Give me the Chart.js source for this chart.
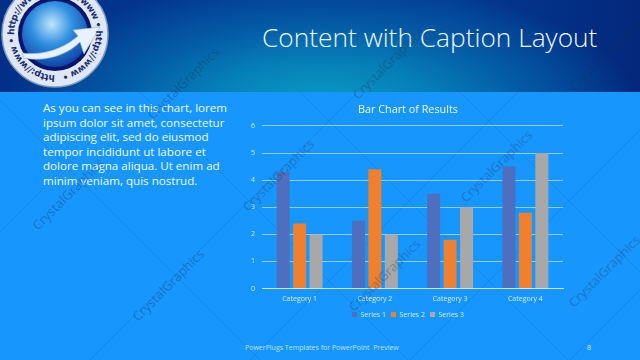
<!DOCTYPE html>
<html><head><meta charset="utf-8">
<script src="https://cdn.jsdelivr.net/npm/chart.js@4"></script>
<style>
html,body{margin:0;padding:0;width:640px;height:360px;overflow:hidden;background:#1797fd;font-family:"Open Sans",sans-serif}
#header{position:absolute;left:0;top:0;width:640px;height:92px;background:radial-gradient(ellipse 315px 125px at 320px 105px,#0a9cc4 0%,#0680b8 35%,#045aa5 65%,rgba(3,50,135,0) 100%),linear-gradient(90deg,#032f88 0%,#033a92 40%,#033a92 70%,#03287c 100%)}
#heading{position:absolute;left:262px;top:19px;font:300 26.3px "Open Sans",sans-serif;color:#eef8ff;white-space:nowrap}
#caption{position:absolute;left:43px;top:101px;width:200px;font:11.6px/14.5px "Open Sans",sans-serif;color:#f0f9ff;white-space:nowrap}
#c{position:absolute;left:237px;top:100px}
#foot{position:absolute;left:245px;top:343px;font:7px "Open Sans",sans-serif;color:#bfe2ff;white-space:nowrap}
#num{position:absolute;left:587px;top:343px;font:7px "Open Sans",sans-serif;color:#d5ecff}
.w{position:absolute;font:13px "Open Sans",sans-serif;color:rgba(20,50,90,.36);transform:translate(-50%,-50%) rotate(-45deg);white-space:nowrap}
svg{position:absolute;left:0;top:0}
</style></head><body>
<div id="header"></div>
<svg width="640" height="360" viewBox="0 0 640 360">
<g stroke="rgba(20,60,120,.16)" stroke-width="1" fill="none">
<path d="M0 100L260 360M140 92L408 360M300 92L568 360M460 92L640 272M0 232L128 104M90 360L358 92M250 360L518 92M410 360L640 130M570 360L640 290"/>
</g>
<defs><radialGradient id="globe" cx=".45" cy=".35" r=".7"><stop offset="0" stop-color="#bfe6fb"/><stop offset=".45" stop-color="#2f8fe0"/><stop offset="1" stop-color="#0a3aa0"/></radialGradient>
<path id="ring" d="M55 75a41 41 0 1 1 .01 0"/></defs>
<circle cx="55" cy="34" r="53" fill="#dfe8f2" stroke="#7f9ac0" stroke-width="1.5"/>
<circle cx="55" cy="34" r="37" fill="#08156e"/>
<circle cx="55" cy="34" r="33" fill="url(#globe)"/>
<path d="M22 53C48 56 66 46 78 36L73 30L100 27L84 54L80 42C66 56 44 62 24 58Z" fill="#e8f2fb" stroke="#8fb4da" stroke-width=".6"/>
<text font-family="DejaVu Sans" font-weight="700" font-size="9" fill="#1b2f72"><textPath href="#ring" textLength="250">http://www • http://www • http://www • http://www •</textPath></text>
</svg>
<div id="heading">Content with Caption Layout</div>
<div id="caption">As you can see in this chart, lorem<br>ipsum dolor sit amet, consectetur<br>adipiscing elit, sed do eiusmod<br>tempor incididunt ut labore et<br>dolore magna aliqua. Ut enim ad<br>minim veniam, quis nostrud.</div>
<canvas id="c" width="336" height="228"></canvas>
<div id="foot">PowerPlugs Templates for PowerPoint&nbsp; Preview</div>
<div id="num">8</div>
<div class="w" style="left:68px;top:194px">CrystalGraphics</div>
<div class="w" style="left:278px;top:175px">CrystalGraphics</div>
<div class="w" style="left:168px;top:285px">CrystalGraphics</div>
<div class="w" style="left:384px;top:275px">CrystalGraphics</div>
<div class="w" style="left:496px;top:166px">CrystalGraphics</div>
<div class="w" style="left:604px;top:271px">CrystalGraphics</div>
<div class="w" style="left:183px;top:83px">CrystalGraphics</div>
<div class="w" style="left:388px;top:63px">CrystalGraphics</div>
<div class="w" style="left:605px;top:55px">CrystalGraphics</div>
<script>
const categories=["Category 1","Category 2","Category 3","Category 4"];
const series1=[4.3,2.5,3.5,4.5];
const series2=[2.4,4.4,1.8,2.8];
const series3=[2,2,3,5];
const seriesNames=["Series 1","Series 2","Series 3"];
const chartTitle="Bar Chart of Results";
const pale="#d5ecff";
const mk=(label,data,color)=>({label,data,backgroundColor:color,categoryPercentage:.656,barPercentage:.79});
new Chart(document.getElementById("c"),{type:"bar",data:{labels:categories,datasets:[
 mk(seriesNames[0],series1,"#4e6fbd"),mk(seriesNames[1],series2,"#f07f2e"),mk(seriesNames[2],series3,"#a8a8a8")]},
plugins:[{id:"centreShift",afterLayout(chart){chart.titleBlock.left+=9;chart.legend.left+=9}}],
options:{responsive:false,animation:false,
 layout:{padding:{left:7,right:10,top:0,bottom:0}},
 plugins:{tooltip:{enabled:false},
  title:{display:true,text:chartTitle,color:"#f0f9ff",font:{family:"Open Sans",size:10.8,weight:"normal"},padding:{top:3,bottom:10}},
  legend:{position:"bottom",labels:{usePointStyle:true,pointStyle:"rect",boxWidth:5,boxHeight:5,color:pale,font:{family:"Open Sans",size:7},padding:5}}},
 scales:{x:{afterFit(s){s.height-=3},grid:{display:false,tickLength:0},border:{color:"rgba(225,240,255,.8)"},ticks:{color:pale,font:{family:"Open Sans",size:7},padding:6}},
  y:{min:0,max:6,grid:{color:"rgba(225,240,255,.62)",drawTicks:false},border:{display:false},ticks:{stepSize:1,color:pale,font:{family:"Open Sans",size:7},padding:7}}}}});
</script>
</body></html>
